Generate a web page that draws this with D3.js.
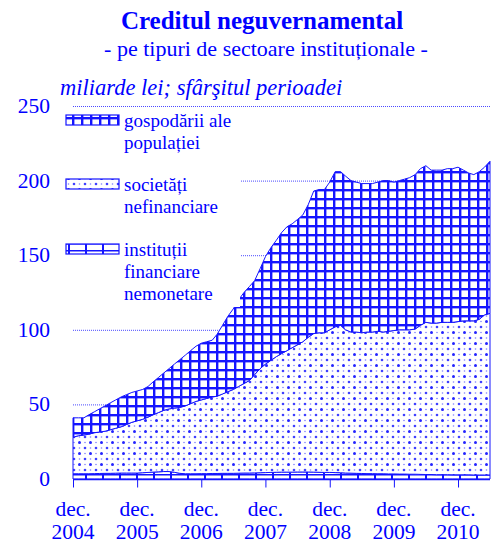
<!DOCTYPE html>
<html>
<head>
<meta charset="utf-8">
<script src="https://cdn.jsdelivr.net/npm/d3@7"></script>
<style>
  body { margin: 0; background: #fff; }
  svg { display: block; }
  text { font-family: "Liberation Serif", "Times New Roman", serif; fill: #0000ff; }
</style>
</head>
<body>
<svg id="chart" width="491" height="543"></svg>
<script>
// monthly, dec. 2004 .. iun. 2011 (mld. lei)
var institutii = [3.5,3.5,3.5,3.5,3.6,3.7,3.8,3.8,3.9,4,4,4,4,4.2,4.4,4.6,4.8,5,5,4.5,
  3.8,3.5,3.5,3.5,3.6,3.6,3.7,3.7,3.8,3.8,3.8,3.9,4,4,4.1,4.2,4.3,4.4,4.5,4.6,
  4.6,4.6,4.7,4.7,4.7,4.6,4.5,4.4,4.4,4.3,4.2,4,3.9,3.8,3.7,3.6,3.6,3.5,3.5,3.4,
  3.4,3.3,3.3,3.2,3.2,3.1,3,3,2.9,2.9,2.9,2.8,2.8,2.8,2.8,2.7,2.7,2.7,2.7];
var societati = [24.5,25.5,26,26.5,27.4,27.8,28.2,29.2,30.1,31,32.5,34,35,35.8,37.1,38.4,39.7,41,42,43,
  44.2,45.5,47,48.5,49.4,50.4,51.3,51.8,53.2,54.7,56.2,58.1,60,62,65.9,69.8,72.7,75.1,77.5,79.4,
  81.4,83.4,85.3,87.3,90.3,92.9,93.5,93.6,95.6,97.7,98.8,96,94.6,94.7,94.3,94.9,94.9,95.5,95,95.6,
  96.1,96.7,96.7,96.8,97.3,99.9,102,101.5,101.6,102.1,102.1,102.2,102.7,103.2,103.2,103.3,104.3,107.3,108.3];
var gospodarii = [13,12,11.5,13,14,15.5,17,18,19,20,20,20,20,20,20.5,22,23.5,25,27,29.5,
  32,34,35.5,37,38,38,38,41.5,46,50.5,54,58,61,63,63,67,72,75.5,78,81,
  83,83,84,85,89,95.5,96,96,99,104,103,103,101.5,100.5,100,99.5,99.5,100,101.5,101,
  99.5,100,101,102,103.5,105,105,102.5,102.5,102,103,103,103.5,101,99,98,99,99,102];

var yTicks = [0, 50, 100, 150, 200, 250];
var tickYears = ["2004", "2005", "2006", "2007", "2008", "2009", "2010"];
var legendLabels = [
  ["gospodării ale", "populației"],
  ["societăți", "nefinanciare"],
  ["instituții", "financiare", "nemonetare"]
];

var lineBlue = "#1414ff";
var svg = d3.select("#chart");

var startMonth = new Date(2004, 11, 1);
var data = institutii.map(function(d, i) {
  return { date: d3.timeMonth.offset(startMonth, i), inst: d, soc: societati[i], gosp: gospodarii[i] };
});

var x = d3.scaleTime()
  .domain([startMonth, d3.timeMonth.offset(startMonth, institutii.length - 1)])
  .range([73, 490]);
var y = d3.scaleLinear().domain([0, 250]).range([479, 106]);

// patterns
var defs = svg.append("defs");
var pg = defs.append("pattern").attr("id", "pGrid").attr("patternUnits", "userSpaceOnUse")
  .attr("width", 9).attr("height", 9);
pg.append("rect").attr("width", 9).attr("height", 9).attr("fill", "#fff");
pg.append("rect").attr("x", 0).attr("y", 0).attr("width", 2.4).attr("height", 9).attr("fill", lineBlue);
pg.append("rect").attr("x", 0).attr("y", 0).attr("width", 9).attr("height", 2.4).attr("fill", lineBlue);

var pd = defs.append("pattern").attr("id", "pDots").attr("patternUnits", "userSpaceOnUse")
  .attr("width", 11).attr("height", 11);
pd.append("rect").attr("width", 11).attr("height", 11).attr("fill", "#fff");
pd.append("circle").attr("cx", 2.5).attr("cy", 2.5).attr("r", 1.5).attr("fill", "#2424ff");
pd.append("circle").attr("cx", 8).attr("cy", 8).attr("r", 1.3).attr("fill", "#4040ff");
pd.append("circle").attr("cx", 8).attr("cy", 2.5).attr("r", 0.8).attr("fill", "#8080ff");
pd.append("circle").attr("cx", 2.5).attr("cy", 8).attr("r", 0.8).attr("fill", "#8080ff");

var pb = defs.append("pattern").attr("id", "pBrick").attr("patternUnits", "userSpaceOnUse")
  .attr("width", 17).attr("height", 7).attr("y", 474);
pb.append("rect").attr("width", 17).attr("height", 7).attr("fill", "#fff");
pb.append("rect").attr("x", 0).attr("y", 0).attr("width", 17).attr("height", 1.5).attr("fill", lineBlue);
pb.append("rect").attr("x", 0).attr("y", 0).attr("width", 2).attr("height", 7).attr("fill", lineBlue);

// dotted gridlines
svg.append("g").selectAll("line")
  .data(yTicks.filter(function(d) { return d > 0; }))
  .enter().append("line")
  .attr("x1", 73).attr("x2", 490)
  .attr("y1", function(d) { return y(d) + 0.5; })
  .attr("y2", function(d) { return y(d) + 0.5; })
  .attr("stroke", "#4a4aff").attr("stroke-width", 1).attr("stroke-dasharray", "1,1");

// stacked areas
var stack = d3.stack().keys(["inst", "soc", "gosp"]);
var series = stack(data);
var fills = { inst: "url(#pBrick)", soc: "url(#pDots)", gosp: "url(#pGrid)" };

var area = d3.area()
  .x(function(d) { return x(d.data.date); })
  .y0(function(d) { return y(d[0]); })
  .y1(function(d) { return y(d[1]); });

svg.append("g").selectAll("path")
  .data(series)
  .enter().append("path")
  .attr("d", area)
  .attr("fill", function(d) { return fills[d.key]; })
  .attr("stroke", lineBlue).attr("stroke-width", 1).attr("stroke-linejoin", "round");

// legend box
svg.append("rect").attr("x", 62).attr("y", 111).attr("width", 178).attr("height", 196).attr("fill", "#fff");
var legendFills = ["url(#pGrid)", "url(#pDots)", "url(#pBrick)"];
var legendTop = [115, 179, 244];
legendLabels.forEach(function(lines, i) {
  svg.append("rect")
    .attr("x", 66).attr("y", legendTop[i]).attr("width", 53).attr("height", 10)
    .attr("fill", legendFills[i]).attr("stroke", lineBlue).attr("stroke-width", 1.2);
  lines.forEach(function(t, j) {
    svg.append("text")
      .attr("x", 124).attr("y", legendTop[i] + 12 + j * 22)
      .attr("font-size", 19).text(t);
  });
});

// axes
svg.append("g").selectAll("text")
  .data(yTicks).enter().append("text")
  .attr("x", 50).attr("y", function(d) { return y(d) + 7; })
  .attr("text-anchor", "end").attr("font-size", 21.5)
  .text(function(d) { return d; });

var tickDates = tickYears.map(function(yr) { return new Date(+yr, 11, 1); });
var xAxis = d3.axisBottom(x).tickValues(tickDates).tickSize(8).tickFormat("");
var gx = svg.append("g").attr("transform", "translate(0,479.5)").call(xAxis);
gx.select(".domain").attr("stroke", lineBlue).attr("stroke-width", 1.5).attr("d", "M73,0H490");
gx.selectAll(".tick line").attr("stroke", lineBlue);

var xl = svg.append("g").selectAll("g")
  .data(tickYears).enter().append("g")
  .attr("transform", function(d, i) { return "translate(" + x(tickDates[i]) + ",0)"; });
xl.append("text").attr("y", 516).attr("text-anchor", "middle").attr("font-size", 21.5).text("dec.");
xl.append("text").attr("y", 539).attr("text-anchor", "middle").attr("font-size", 21.5).text(function(d) { return d; });

// titles
svg.append("text").attr("x", 262).attr("y", 29).attr("text-anchor", "middle")
  .attr("font-size", 25).attr("font-weight", "bold").text("Creditul neguvernamental");
svg.append("text").attr("x", 266).attr("y", 56).attr("text-anchor", "middle")
  .attr("font-size", 22).text("- pe tipuri de sectoare instituționale -");
svg.append("text").attr("x", 60).attr("y", 95)
  .attr("font-size", 22.5).attr("font-style", "italic").text("miliarde lei; sfârşitul perioadei");
</script>
</body>
</html>
